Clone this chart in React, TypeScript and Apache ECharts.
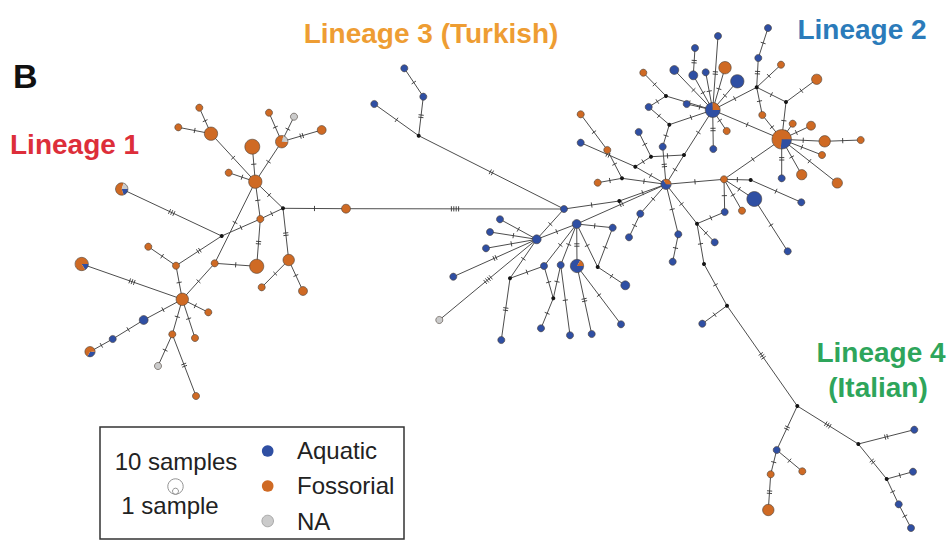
import React, { useEffect, useRef } from "react";
import * as echarts from "echarts";

// Haplotype rows: id, x, y, fossorial count, aquatic count, NA count.
// A row whose three counts are all zero is a median vector (unsampled haplotype).
type Hap = [string, number, number, number, number, number];

const lineage1Haps: Hap[] = [
  ["a1", 199.3, 107.7, 1, 0, 0],
  ["a2", 178.3, 127.3, 1, 0, 0],
  ["a3", 211, 133.7, 6, 0, 0],
  ["a4", 269, 112.7, 1, 0, 0],
  ["a5", 294, 116.7, 0, 0, 1],
  ["a6", 252.3, 146.7, 8, 0, 0],
  ["a7", 281.7, 141.7, 4, 0, 1],
  ["a8", 321.7, 130, 2, 0, 0],
  ["a9", 228.7, 172.7, 1, 0, 0],
  ["a10", 255.3, 181.7, 6, 0, 0],
  ["a11", 283, 208.3, 0, 0, 0],
  ["a12", 346, 208.7, 2, 0, 0],
  ["a13", 260.3, 219, 1, 0, 0],
  ["a14", 221.7, 236, 0, 0, 0],
  ["a15", 121.7, 189, 3, 1, 1],
  ["a16", 148.3, 246.7, 1, 0, 0],
  ["a17", 176, 265.7, 1, 0, 0],
  ["a19", 214.7, 263.3, 1, 0, 0],
  ["a20", 256.7, 266.3, 7, 0, 0],
  ["a21", 288.7, 260, 4, 0, 0],
  ["a22", 261.7, 287.3, 1, 0, 0],
  ["a23", 303, 291, 2, 0, 0],
  ["a24", 81.7, 264, 5, 1, 0],
  ["a25", 182.3, 299.3, 5, 0, 0],
  ["a26", 208.3, 312.3, 1, 0, 0],
  ["a27", 143.7, 320, 0, 2, 0],
  ["a28", 112.7, 339, 0, 1, 0],
  ["a29", 90, 351.7, 2, 1, 0],
  ["a30", 172.3, 334.3, 1, 0, 0],
  ["a31", 195, 338, 1, 0, 0],
  ["a32", 158, 366, 0, 0, 1],
  ["a33", 196, 396, 1, 0, 0],
];

const lineage3Haps: Hap[] = [
  ["b1", 404.3, 68.3, 0, 1, 0],
  ["b2", 423.3, 96.7, 0, 1, 0],
  ["b3", 374.3, 104, 0, 1, 0],
  ["b4", 418.7, 135.7, 0, 0, 0],
];

const lineage2Haps: Hap[] = [
  ["C", 564, 209, 0, 1, 0],
  ["A", 536.7, 239.3, 0, 2, 0],
  ["B", 576.7, 224, 0, 2, 0],
  ["c1", 500, 219.3, 0, 1, 0],
  ["c2", 490, 232, 0, 1, 0],
  ["c3", 486, 248.3, 0, 1, 0],
  ["c4", 453.3, 276.7, 0, 1, 0],
  ["c5", 439.3, 320, 0, 0, 1],
  ["m1", 510, 278.3, 0, 0, 0],
  ["c6", 501.3, 340, 0, 1, 0],
  ["c7", 544, 266, 0, 1, 0],
  ["c8", 560.7, 265, 0, 1, 0],
  ["m2", 553.3, 298.3, 0, 0, 0],
  ["c9", 541, 328.3, 0, 1, 0],
  ["c10", 570, 335.3, 0, 1, 0],
  ["P1", 577, 266, 1, 5, 0],
  ["c11", 591.7, 334, 0, 1, 0],
  ["c12", 621, 324.3, 0, 1, 0],
  ["m3", 597.7, 267, 0, 0, 0],
  ["c13", 625.3, 285.3, 0, 2, 0],
  ["c14", 612.7, 227.7, 0, 1, 0],
  ["m4", 619.3, 201, 0, 0, 0],
  ["c15", 640.3, 213.7, 0, 1, 0],
  ["c16", 629, 237.3, 0, 1, 0],
  ["D", 666, 184.3, 1, 2, 0],
  ["E", 724, 179.3, 1, 0, 0],
  ["c17", 597.7, 182.7, 1, 0, 0],
  ["m5", 622, 178.3, 0, 0, 0],
  ["c18", 607.3, 150, 1, 0, 0],
  ["c19", 580.7, 114.3, 1, 0, 0],
  ["c20", 580.7, 142.7, 0, 1, 0],
  ["m6", 635.3, 166.7, 0, 0, 0],
  ["m7", 651, 156.7, 0, 0, 0],
  ["c21", 638.7, 132, 0, 1, 0],
  ["m8", 684, 155, 0, 0, 0],
  ["c22", 713.3, 149, 0, 1, 0],
  ["c23", 662.7, 146.7, 0, 1, 0],
  ["m9", 669.3, 124.7, 0, 0, 0],
  ["c24", 648.7, 107, 0, 1, 0],
  ["m10", 666, 96, 0, 0, 0],
  ["c25", 643.3, 72.7, 1, 0, 0],
  ["c26", 686.7, 104, 0, 1, 0],
  ["H2", 712.7, 110, 2, 6, 0],
  ["c27", 726.7, 131, 1, 0, 0],
  ["c28", 674.3, 70, 0, 2, 0],
  ["c29", 693.3, 75.3, 0, 2, 0],
  ["c30", 705.7, 72.3, 0, 1, 0],
  ["c31", 695, 48, 0, 1, 0],
  ["c32", 718, 36, 0, 1, 0],
  ["c33", 725, 67.7, 5, 0, 0],
  ["c34", 737.3, 81.3, 0, 6, 0],
  ["c35", 758.3, 58, 0, 1, 0],
  ["c36", 768, 28, 0, 1, 0],
  ["m11", 756.7, 87.3, 0, 0, 0],
  ["c37", 781, 64.7, 1, 0, 0],
  ["m12", 786, 102, 0, 0, 0],
  ["c38", 816.7, 79.3, 3, 0, 0],
  ["c39", 762.3, 115, 1, 0, 0],
  ["H3", 781.7, 139.3, 11, 4, 0],
  ["c40", 792.7, 123.7, 1, 0, 0],
  ["c41", 811, 125.7, 2, 0, 0],
  ["c42", 824.7, 141.3, 4, 0, 0],
  ["c43", 860.7, 140, 1, 0, 0],
  ["c44", 822, 155, 1, 0, 0],
  ["c45", 781.7, 178.3, 0, 1, 0],
  ["c46", 801.7, 174.7, 3, 0, 0],
  ["c47", 837.3, 183, 3, 0, 0],
  ["m13", 750.7, 180, 0, 0, 0],
  ["c48", 754.3, 199, 0, 8, 0],
  ["c49", 801.3, 202.3, 0, 1, 0],
  ["c50", 787.7, 251.3, 0, 1, 0],
  ["c51", 724.7, 212, 0, 1, 0],
  ["c52", 742, 210.7, 1, 0, 0],
  ["m14", 697, 223.7, 0, 0, 0],
  ["c53", 678.3, 234.3, 0, 1, 0],
  ["c54", 672.7, 261.7, 0, 1, 0],
  ["c55", 714.7, 242.3, 0, 1, 0],
  ["m15", 704, 264, 0, 0, 0],
  ["m16", 727, 305.7, 0, 0, 0],
  ["c56", 702.3, 323.7, 0, 1, 0],
];

const lineage4Haps: Hap[] = [
  ["m17", 797.3, 406, 0, 0, 0],
  ["d1", 776.7, 450, 0, 1, 0],
  ["d2", 770.7, 474.3, 1, 0, 0],
  ["d3", 768.3, 510, 4, 0, 0],
  ["d4", 802.3, 471.3, 1, 0, 0],
  ["m18", 858.3, 444, 0, 0, 0],
  ["d5", 914.3, 429.7, 0, 1, 0],
  ["m19", 886.7, 479, 0, 0, 0],
  ["d6", 913, 471.7, 0, 1, 0],
  ["d7", 898.7, 504.3, 0, 1, 0],
  ["d8", 911, 528, 0, 1, 0],
];

// Links: from, to, number of mutational steps (hatch marks)
const links: [string, string, number][] = [
  // Lineage 1
  ["a1", "a3", 1], ["a2", "a3", 1], ["a3", "a10", 1], ["a6", "a10", 1],
  ["a4", "a7", 1], ["a5", "a7", 1], ["a8", "a7", 2], ["a7", "a10", 1],
  ["a9", "a10", 1], ["a10", "a11", 1], ["a11", "a12", 1], ["a12", "C", 4],
  ["a10", "a13", 1], ["a13", "a20", 2], ["a11", "a13", 1], ["a13", "a14", 1],
  ["a11", "a21", 2], ["a21", "a22", 1], ["a21", "a23", 1], ["a14", "a15", 3],
  ["a14", "a17", 2], ["a16", "a17", 1], ["a17", "a25", 1], ["a10", "a19", 1],
  ["a19", "a25", 1], ["a19", "a20", 1], ["a25", "a24", 3], ["a25", "a26", 1],
  ["a25", "a27", 1], ["a27", "a28", 1], ["a28", "a29", 1], ["a25", "a30", 1],
  ["a25", "a31", 1], ["a30", "a32", 1], ["a30", "a33", 2],
  // Lineage 3
  ["b1", "b2", 1], ["b2", "b4", 2], ["b3", "b4", 1], ["b4", "C", 2],
  // Lineage 2
  ["C", "A", 1], ["C", "m4", 1], ["A", "B", 1], ["A", "c1", 1], ["A", "c2", 1],
  ["A", "c3", 1], ["A", "c4", 2], ["A", "c5", 4], ["A", "m1", 1], ["m1", "c6", 2],
  ["m1", "c7", 1], ["B", "c7", 1], ["B", "c8", 1], ["c7", "m2", 1], ["c8", "m2", 1],
  ["m2", "c9", 1], ["c8", "c10", 1], ["B", "P1", 2], ["P1", "c11", 2], ["P1", "c12", 1],
  ["B", "m3", 1], ["m3", "c14", 1], ["m3", "c13", 1], ["B", "c14", 1], ["m4", "D", 1],
  ["B", "D", 2], ["D", "c15", 1], ["c15", "c16", 1],
  ["D", "E", 1], ["D", "m5", 1], ["m5", "c17", 1], ["m5", "c18", 1], ["c18", "c19", 1],
  ["D", "m6", 1], ["m6", "c20", 2], ["m6", "m7", 1], ["m7", "c21", 1], ["m7", "m8", 1],
  ["D", "m8", 1], ["m8", "H2", 1], ["c22", "H2", 2], ["c23", "D", 2], ["m9", "c23", 1],
  ["m9", "c24", 1], ["m9", "H2", 1], ["m10", "c25", 1], ["m10", "H2", 1], ["m10", "c24", 1],
  ["c26", "H2", 1], ["c27", "H2", 1], ["c28", "H2", 1], ["c29", "H2", 1], ["c31", "c29", 2],
  ["c30", "H2", 1], ["c32", "H2", 2], ["c33", "H2", 1], ["c34", "H2", 1], ["H2", "m11", 1],
  ["c35", "m11", 2], ["c36", "c35", 1], ["c37", "m11", 1], ["m11", "m12", 1], ["m12", "c38", 1],
  ["m12", "H3", 1], ["m11", "c39", 1], ["c39", "H3", 1], ["H2", "H3", 1],
  ["H3", "c40", 1], ["H3", "c41", 1], ["H3", "c42", 1], ["c42", "c43", 1], ["H3", "c44", 1],
  ["H3", "c45", 2], ["H3", "c46", 1], ["H3", "c47", 1], ["H3", "E", 1],
  ["E", "m13", 1], ["m13", "c49", 1], ["E", "c48", 1], ["c48", "c50", 1], ["E", "c51", 1],
  ["E", "c52", 1], ["m14", "c51", 1], ["D", "m14", 1], ["D", "c53", 1], ["c53", "c54", 1],
  ["m14", "c55", 1], ["m14", "m15", 1], ["m15", "m16", 1], ["m16", "c56", 1], ["m16", "m17", 3],
  // Lineage 4
  ["m17", "d1", 2], ["d1", "d2", 1], ["d2", "d3", 2], ["d1", "d4", 1], ["m17", "m18", 3],
  ["m18", "d5", 2], ["m18", "m19", 2], ["m19", "d6", 1], ["m19", "d7", 1], ["d7", "d8", 1],
];

const legendHabitats = ["Aquatic", "Fossorial", "NA"];

const BLUE = "#2f4fa3";
const ORANGE = "#cf6a24";
const GRAY = "#cbcbcb";
const OUTLINE = "#4a4038";
const LINK = "#4d4d4d";
const FONT = '"Liberation Sans", Arial, Helvetica, sans-serif';

// circle radius (px) for a haplotype seen in n samples
const radiusFor = (n: number) => 1.4 + 2.15 * Math.sqrt(n);

export default function App() {
  const ref = useRef<HTMLDivElement>(null);

  useEffect(() => {
    document.body.style.margin = "0";
    if (!ref.current) return;
    const chart = echarts.init(ref.current, undefined, { renderer: "svg" });

    const allHaps = [...lineage1Haps, ...lineage3Haps, ...lineage2Haps, ...lineage4Haps];
    const pos: Record<string, [number, number]> = {};
    allHaps.forEach((h) => (pos[h[0]] = [h[1], h[2]]));

    const linkData = links.map(([s, t, k]) => [pos[s][0], pos[s][1], pos[t][0], pos[t][1], k]);
    const hapData = allHaps.map((h) => [h[1], h[2], h[3], h[4], h[5]]);

    const habitatColors = [BLUE, ORANGE, GRAY];

    chart.setOption({
      animation: false,
      backgroundColor: "#ffffff",
      grid: { left: 0, right: 0, top: 0, bottom: 0 },
      xAxis: { type: "value", min: 0, max: 951, show: false },
      yAxis: { type: "value", min: 0, max: 541, inverse: true, show: false },
      series: [
        {
          type: "custom",
          silent: true,
          z: 1,
          encode: { x: [0, 2], y: [1, 3] },
          data: linkData,
          renderItem: (_p: any, api: any) => {
            const p1 = api.coord([api.value(0), api.value(1)]);
            const p2 = api.coord([api.value(2), api.value(3)]);
            const k = api.value(4);
            const dx = p2[0] - p1[0];
            const dy = p2[1] - p1[1];
            const len = Math.hypot(dx, dy) || 1;
            const ux = dx / len;
            const uy = dy / len;
            const nx = -uy;
            const ny = ux;
            const mx = (p1[0] + p2[0]) / 2;
            const my = (p1[1] + p2[1]) / 2;
            const children: any[] = [
              {
                type: "line",
                shape: { x1: p1[0], y1: p1[1], x2: p2[0], y2: p2[1] },
                style: { stroke: LINK, lineWidth: 1 },
              },
            ];
            for (let i = 0; i < k; i++) {
              const off = (i - (k - 1) / 2) * 2.4;
              const cx = mx + ux * off;
              const cy = my + uy * off;
              children.push({
                type: "line",
                shape: { x1: cx - nx * 2.6, y1: cy - ny * 2.6, x2: cx + nx * 2.6, y2: cy + ny * 2.6 },
                style: { stroke: "#333", lineWidth: 0.9 },
              });
            }
            return { type: "group", children };
          },
        },
        {
          type: "custom",
          silent: true,
          z: 2,
          encode: { x: 0, y: 1 },
          data: hapData,
          renderItem: (_p: any, api: any) => {
            const [cx, cy] = api.coord([api.value(0), api.value(1)]);
            const f = api.value(2);
            const a = api.value(3);
            const n = api.value(4);
            const total = f + a + n;
            if (total === 0) {
              return { type: "circle", shape: { cx, cy, r: 2 }, style: { fill: "#151515" } };
            }
            const r = radiusFor(total);
            const parts = [
              [a, habitatColors[0]],
              [f, habitatColors[1]],
              [n, habitatColors[2]],
            ].filter((d) => (d[0] as number) > 0) as [number, string][];
            const children: any[] = [];
            if (parts.length === 1) {
              children.push({
                type: "circle",
                shape: { cx, cy, r },
                style: { fill: parts[0][1], stroke: OUTLINE, lineWidth: 0.6 },
              });
            } else {
              let ang = 0;
              for (const [c, col] of parts) {
                const end = ang + (c / total) * Math.PI * 2;
                children.push({
                  type: "sector",
                  shape: { cx, cy, r0: 0, r, startAngle: ang, endAngle: end, clockwise: true },
                  style: { fill: col },
                });
                ang = end;
              }
              children.push({
                type: "circle",
                shape: { cx, cy, r },
                style: { fill: "none", stroke: OUTLINE, lineWidth: 0.6 },
              });
            }
            return { type: "group", children };
          },
        },
      ],
      graphic: [
        {
          type: "text",
          x: 13,
          y: 76,
          style: { text: "B", font: `bold 34px ${FONT}`, fill: "#111", textVerticalAlign: "middle" },
        },
        {
          type: "text",
          x: 10,
          y: 144,
          style: { text: "Lineage 1", font: `bold 28px ${FONT}`, fill: "#dd2e3a", textVerticalAlign: "middle" },
        },
        {
          type: "text",
          x: 431,
          y: 33,
          style: {
            text: "Lineage 3 (Turkish)",
            font: `bold 28px ${FONT}`,
            fill: "#ee9d33",
            textAlign: "center",
            textVerticalAlign: "middle",
          },
        },
        {
          type: "text",
          x: 862,
          y: 29,
          style: {
            text: "Lineage 2",
            font: `bold 28px ${FONT}`,
            fill: "#2b7bba",
            textAlign: "center",
            textVerticalAlign: "middle",
          },
        },
        {
          type: "text",
          x: 881,
          y: 352,
          style: {
            text: "Lineage 4",
            font: `bold 28px ${FONT}`,
            fill: "#2ea55b",
            textAlign: "center",
            textVerticalAlign: "middle",
          },
        },
        {
          type: "text",
          x: 878,
          y: 387,
          style: {
            text: "(Italian)",
            font: `bold 28px ${FONT}`,
            fill: "#2ea55b",
            textAlign: "center",
            textVerticalAlign: "middle",
          },
        },
        // Legend frame
        {
          type: "rect",
          shape: { x: 100, y: 427, width: 304, height: 112 },
          style: { fill: "#ffffff", stroke: "#333", lineWidth: 1.5 },
          z: 10,
        },
        {
          type: "text",
          x: 176,
          y: 461,
          z: 11,
          style: {
            text: "10 samples",
            font: `24px ${FONT}`,
            fill: "#222",
            textAlign: "center",
            textVerticalAlign: "middle",
          },
        },
        {
          type: "circle",
          z: 11,
          shape: { cx: 175.5, cy: 486.5, r: 7.7 },
          style: { fill: "#fff", stroke: "#777", lineWidth: 0.8 },
        },
        {
          type: "circle",
          z: 12,
          shape: { cx: 175.5, cy: 491.2, r: 3 },
          style: { fill: "#fff", stroke: "#777", lineWidth: 0.8 },
        },
        {
          type: "text",
          x: 170,
          y: 505,
          z: 11,
          style: {
            text: "1 sample",
            font: `24px ${FONT}`,
            fill: "#222",
            textAlign: "center",
            textVerticalAlign: "middle",
          },
        },
        ...legendHabitats.flatMap((name, i) => [
          {
            type: "circle",
            z: 11,
            shape: { cx: 267.7, cy: 451 + i * 35, r: 5.8 },
            style: { fill: habitatColors[i], stroke: i === 2 ? "#9a9a9a" : "none", lineWidth: 0.8 },
          },
          {
            type: "text",
            x: 297,
            y: 450 + i * 35.5,
            z: 11,
            style: { text: name, font: `24px ${FONT}`, fill: "#222", textVerticalAlign: "middle" },
          },
        ]),
      ],
    });

    return () => chart.dispose();
  }, []);

  return <div ref={ref} style={{ width: 951, height: 541, background: "#fff" }} />;
}
